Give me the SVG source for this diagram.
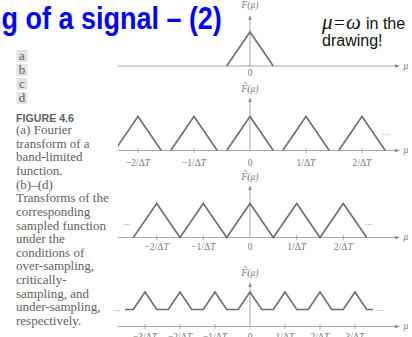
<svg xmlns="http://www.w3.org/2000/svg" width="412" height="337" viewBox="0 0 412 337">
<defs>
<style>
.title{font-family:"Liberation Sans",Arial,sans-serif;font-weight:bold;font-size:31px;fill:#0000ff}
.note{font-family:"Liberation Sans",Arial,sans-serif;font-size:16px;fill:#111}
.sym{font-family:"Liberation Serif","Times New Roman",serif;font-style:italic;font-size:21px;fill:#111}
.eq{font-family:"Liberation Serif","Times New Roman",serif;font-size:19px;fill:#111}
.cap{font-family:"Liberation Serif","Times New Roman",serif;font-size:13px;fill:#5f5f5f}
.fig{font-family:"Liberation Sans",Arial,sans-serif;font-weight:bold;font-size:11px;fill:#5f5f5f}
.lbl{font-family:"Liberation Serif","Times New Roman",serif;font-size:9.5px;fill:#777;text-anchor:middle}
.it{font-style:italic}
.box{fill:#e2e2e2}
.axis{stroke:#a8a8a8;stroke-width:1;fill:none}
.tick{stroke:#a8a8a8;stroke-width:1}
.curve{stroke:#6e6e6e;stroke-width:1.6;fill:none;stroke-linejoin:miter}
.dots{font-family:"Liberation Sans",Arial,sans-serif;font-size:9px;fill:#999}
</style>
<marker id="ah" viewBox="0 0 6 6" refX="5" refY="3" markerWidth="5" markerHeight="5" orient="auto">
<path d="M0,0.8 L6,3 L0,5.2 Z" fill="#8a8a8a"/>
</marker>
<clipPath id="clipL"><rect x="118" y="0" width="294" height="337"/></clipPath>
</defs>
<rect width="412" height="337" fill="#ffffff"/>

<g id="title">
<text class="title" transform="matrix(0.871 0 0 1 -15 29)" x="0" y="0">ng of a signal – (2)</text>
</g>

<g id="note">
<text y="29"><tspan class="sym" x="322">μ</tspan><tspan class="eq" x="334">=</tspan><tspan class="sym" x="346">ω</tspan><tspan class="note" x="366">in the</tspan></text>
<text class="note" x="322" y="46">drawing!</text>
</g>

<g id="caption">
<rect class="box" x="16.5" y="50" width="11" height="12"/>
<rect class="box" x="16.5" y="64" width="11" height="12"/>
<rect class="box" x="16.5" y="78" width="11" height="12"/>
<rect class="box" x="16.5" y="92" width="11" height="12"/>
<text class="cap" x="22" y="60" text-anchor="middle" font-size="12">a</text>
<text class="cap" x="22" y="74" text-anchor="middle">b</text>
<text class="cap" x="22" y="88" text-anchor="middle">c</text>
<text class="cap" x="22" y="102" text-anchor="middle">d</text>
<text class="fig" x="16" y="121.5" textLength="58" lengthAdjust="spacingAndGlyphs">FIGURE 4.6</text>
<text class="cap" x="16" y="134">(a) Fourier</text>
<text class="cap" x="16" y="147.6">transform of a</text>
<text class="cap" x="16" y="161.3">band-limited</text>
<text class="cap" x="16" y="174.9">function.</text>
<text class="cap" x="16" y="188.6">(b)–(d)</text>
<text class="cap" x="16" y="202.2">Transforms of the</text>
<text class="cap" x="16" y="215.8">corresponding</text>
<text class="cap" x="16" y="229.5">sampled function</text>
<text class="cap" x="16" y="243.1">under the</text>
<text class="cap" x="16" y="256.8">conditions of</text>
<text class="cap" x="16" y="270.4">over-sampling,</text>
<text class="cap" x="16" y="284">critically-</text>
<text class="cap" x="16" y="297.7">sampling, and</text>
<text class="cap" x="16" y="311.3">under-sampling,</text>
<text class="cap" x="16" y="325">respectively.</text>
</g>

<g id="plot-a">
<line class="axis" x1="118" y1="66" x2="399" y2="66" marker-end="url(#ah)"/>
<line class="axis" x1="250" y1="67" x2="250" y2="16" marker-end="url(#ah)"/>
<path class="curve" d="M226.7,66 L250,32 L273.3,66"/>
<text class="lbl it" x="250" y="8">F(μ)</text>
<text class="lbl" x="250" y="76">0</text>
<text class="lbl it" x="406" y="69">μ</text>
</g>

<g id="plot-b">
<line class="axis" x1="118" y1="150.5" x2="399" y2="150.5" marker-end="url(#ah)"/>
<line class="axis" x1="250" y1="151.5" x2="250" y2="98" marker-end="url(#ah)"/>
<g class="tick">
<line x1="138" y1="148" x2="138" y2="153"/><line x1="194" y1="148" x2="194" y2="153"/>
<line x1="306" y1="148" x2="306" y2="153"/><line x1="362" y1="148" x2="362" y2="153"/>
</g>
<path class="curve" clip-path="url(#clipL)" d="M114.7,150.5 L138,116.5 L161.3,150.5 M170.7,150.5 L194,116.5 L217.3,150.5 M226.7,150.5 L250,116.5 L273.3,150.5 M282.7,150.5 L306,116.5 L329.3,150.5 M338.7,150.5 L362,116.5 L385.3,150.5"/>
<text class="lbl it" x="250" y="92">F̃(μ)</text>
<text class="lbl" x="138" y="166">−2/Δ<tspan class="it">T</tspan></text>
<text class="lbl" x="194" y="166">−1/Δ<tspan class="it">T</tspan></text>
<text class="lbl" x="250" y="166">0</text>
<text class="lbl" x="306" y="166">1/Δ<tspan class="it">T</tspan></text>
<text class="lbl" x="362" y="166">2/Δ<tspan class="it">T</tspan></text>
<text class="dots" x="382" y="135">...</text>
<text class="lbl it" x="406" y="153">μ</text>
</g>

<g id="plot-c">
<line class="axis" x1="118" y1="237.5" x2="399" y2="237.5" marker-end="url(#ah)"/>
<line class="axis" x1="250" y1="238.5" x2="250" y2="186" marker-end="url(#ah)"/>
<g class="tick">
<line x1="156.7" y1="235" x2="156.7" y2="240"/><line x1="203.3" y1="235" x2="203.3" y2="240"/>
<line x1="296.7" y1="235" x2="296.7" y2="240"/><line x1="343.3" y1="235" x2="343.3" y2="240"/>
</g>
<path class="curve" d="M133.3,237.5 L156.7,203.5 L180,237.5 L203.3,203.5 L226.7,237.5 L250,203.5 L273.3,237.5 L296.7,203.5 L320,237.5 L343.3,203.5 L366.7,237.5"/>
<text class="lbl it" x="250" y="180">F̃(μ)</text>
<text class="lbl" x="156.7" y="250">−2/Δ<tspan class="it">T</tspan></text>
<text class="lbl" x="203.3" y="250">−1/Δ<tspan class="it">T</tspan></text>
<text class="lbl" x="250" y="250">0</text>
<text class="lbl" x="296.7" y="250">1/Δ<tspan class="it">T</tspan></text>
<text class="lbl" x="343.3" y="250">2/Δ<tspan class="it">T</tspan></text>
<text class="dots" x="123" y="225">...</text>
<text class="dots" x="365" y="225">...</text>
<text class="lbl it" x="406" y="240">μ</text>
</g>

<g id="plot-d">
<line class="axis" x1="118" y1="326.5" x2="399" y2="326.5" marker-end="url(#ah)"/>
<line class="axis" x1="250" y1="327.5" x2="250" y2="283" marker-end="url(#ah)"/>
<g class="tick">
<line x1="145" y1="324" x2="145" y2="329"/><line x1="180" y1="324" x2="180" y2="329"/>
<line x1="215" y1="324" x2="215" y2="329"/><line x1="285" y1="324" x2="285" y2="329"/>
<line x1="320" y1="324" x2="320" y2="329"/><line x1="355" y1="324" x2="355" y2="329"/>
</g>
<path class="curve" d="M125,309.5 L133.3,309.5 L145,292 L156.7,309.5 L168.3,309.5 L180,292 L191.7,309.5 L203.3,309.5 L215,292 L226.7,309.5 L238.3,309.5 L250,292 L261.7,309.5 L273.3,309.5 L285,292 L296.7,309.5 L308.3,309.5 L320,292 L331.7,309.5 L343.3,309.5 L355,292 L366.7,309.5 L373,309.5"/>
<text class="lbl it" x="250" y="276">F̃(μ)</text>
<text class="lbl" x="145" y="339.5">−3/Δ<tspan class="it">T</tspan></text>
<text class="lbl" x="180" y="339.5">−2/Δ<tspan class="it">T</tspan></text>
<text class="lbl" x="215" y="339.5">−1/Δ<tspan class="it">T</tspan></text>
<text class="lbl" x="250" y="339.5">0</text>
<text class="lbl" x="285" y="339.5">1/Δ<tspan class="it">T</tspan></text>
<text class="lbl" x="320" y="339.5">2/Δ<tspan class="it">T</tspan></text>
<text class="lbl" x="355" y="339.5">3/Δ<tspan class="it">T</tspan></text>
<text class="dots" x="113" y="311">...</text>
<text class="dots" x="376" y="311">...</text>
<text class="lbl it" x="406" y="329">μ</text>
</g>
</svg>
